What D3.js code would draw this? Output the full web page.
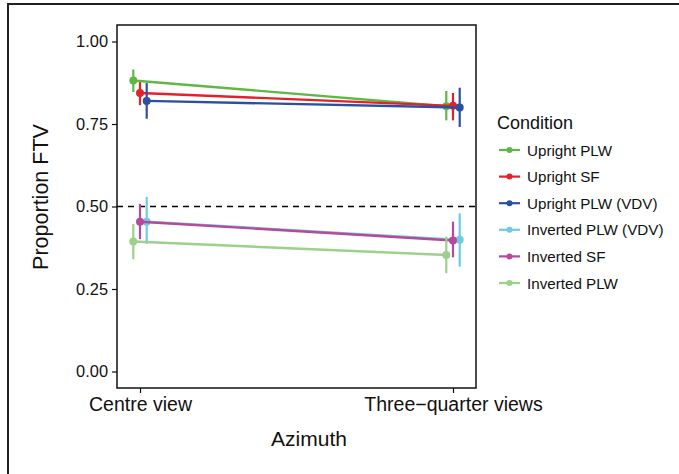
<!DOCTYPE html>
<html lang="en">
<head>
    <meta charset="UTF-8">
    <title>Proportion FTV by azimuth</title>
</head>
<style>
    body { margin: 0; background: #fff; }
    svg text { font-family: "Liberation Sans", Arial, Helvetica, sans-serif; fill: #111; }
</style>
<script src="https://cdn.jsdelivr.net/npm/d3@7"></script>
<body>
    <div id="graphic"></div>
</body>

<script>
    // categories
    var azimuths = ["Centre view", "Three\u2212quarter views"];
    var conditions = ["Upright PLW", "Upright SF", "Upright PLW (VDV)",
                      "Inverted PLW (VDV)", "Inverted SF", "Inverted PLW"];
    var colours = ["#5fb845", "#e4212a", "#2d4fa2", "#6ccde0", "#b8489d", "#9dd08b"];
    var yTicks = [0, 0.25, 0.5, 0.75, 1];

    // means and error bars, [centre, three-quarter]
    var means = [
        [0.882, 0.804],
        [0.844, 0.805],
        [0.820, 0.800],
        [0.454, 0.399],
        [0.454, 0.397],
        [0.394, 0.353]
    ];
    var lower = [
        [0.847, 0.761],
        [0.807, 0.761],
        [0.766, 0.741],
        [0.387, 0.318],
        [0.401, 0.346],
        [0.340, 0.298]
    ];
    var upper = [
        [0.915, 0.850],
        [0.877, 0.844],
        [0.874, 0.860],
        [0.529, 0.479],
        [0.508, 0.454],
        [0.447, 0.409]
    ];
    var chance = 0.5;

    var width = 679;
    var height = 474;
    var panel = {left: 117, top: 25, width: 359, height: 363};

    // dodge group: PLW / SF / VDV
    function group(c) {
        if (c.indexOf("VDV") >= 0) { return "VDV"; }
        if (c.indexOf("SF") >= 0) { return "SF"; }
        return "PLW";
    }

    var x = d3.scalePoint()
                .domain(azimuths)
                .range([0, panel.width])
                .padding(0.0735);

    var dodge = d3.scalePoint()
                .domain(["PLW", "SF", "VDV"])
                .range([-6.7, 6.7]);

    var y = d3.scaleLinear()
                .domain([-0.05, 1.05])
                .range([panel.height, 0]);

    var svg = d3.select('#graphic')
                .append('svg')
                .attr('width', width)
                .attr('height', height);

    // outer frame
    svg.append('rect')
        .attr('x', 8)
        .attr('y', 4)
        .attr('width', 700)
        .attr('height', 500)
        .attr('fill', 'none')
        .attr('stroke', '#231f20')
        .attr('stroke-width', 2);

    var g = svg.append('g')
                .attr('transform', 'translate(' + panel.left + ',' + panel.top + ')');

    // build rows
    var data = conditions.map(function(c, i) {
        return {
            condition: c,
            colour: colours[i],
            points: azimuths.map(function(a, j) {
                return {az: a, mean: means[i][j], lo: lower[i][j], hi: upper[i][j]};
            })
        };
    });

    function px(c, a) { return x(a) + dodge(group(c)); }

    // dashed chance line
    g.append('line')
        .attr('x1', 0)
        .attr('x2', panel.width)
        .attr('y1', y(chance))
        .attr('y2', y(chance))
        .attr('stroke', '#000')
        .attr('stroke-width', 1.3)
        .attr('stroke-dasharray', '6,5');

    var series = g.selectAll('.series')
                .data(data)
                .join('g')
                .attr('class', 'series');

    series.append('path')
        .attr('fill', 'none')
        .attr('stroke', function(d) { return d.colour; })
        .attr('stroke-width', 2.4)
        .attr('d', function(d) {
            return d3.line()
                .x(function(p) { return px(d.condition, p.az); })
                .y(function(p) { return y(p.mean); })(d.points);
        });

    series.selectAll('.err')
        .data(function(d) { return d.points.map(function(p) { return {d: d, p: p}; }); })
        .join('line')
        .attr('class', 'err')
        .attr('x1', function(e) { return px(e.d.condition, e.p.az); })
        .attr('x2', function(e) { return px(e.d.condition, e.p.az); })
        .attr('y1', function(e) { return y(e.p.lo); })
        .attr('y2', function(e) { return y(e.p.hi); })
        .attr('stroke', function(e) { return e.d.colour; })
        .attr('stroke-width', 2.2);

    series.selectAll('.pt')
        .data(function(d) { return d.points.map(function(p) { return {d: d, p: p}; }); })
        .join('circle')
        .attr('class', 'pt')
        .attr('cx', function(e) { return px(e.d.condition, e.p.az); })
        .attr('cy', function(e) { return y(e.p.mean); })
        .attr('r', 4)
        .attr('fill', function(e) { return e.d.colour; });

    // panel border
    g.append('rect')
        .attr('width', panel.width)
        .attr('height', panel.height)
        .attr('fill', 'none')
        .attr('stroke', '#111')
        .attr('stroke-width', 1.5);

    // axes
    var yAxis = g.append('g')
        .call(d3.axisLeft(y).tickValues(yTicks).tickFormat(d3.format('.2f')).tickSize(5).tickPadding(4));
    yAxis.select('.domain').remove();
    yAxis.selectAll('.tick line').attr('stroke', '#111').attr('stroke-width', 1.2);
    yAxis.selectAll('.tick text').style('font-size', '16.4px').attr('fill', '#111');

    var xAxis = g.append('g')
        .attr('transform', 'translate(0,' + panel.height + ')')
        .call(d3.axisBottom(x).tickSize(5).tickPadding(4));
    xAxis.select('.domain').remove();
    xAxis.selectAll('.tick line').attr('stroke', '#111').attr('stroke-width', 1.2);
    xAxis.selectAll('.tick text').style('font-size', '19.5px').attr('fill', '#111');

    // axis titles
    svg.append('text')
        .attr('x', 309)
        .attr('y', 446)
        .attr('text-anchor', 'middle')
        .style('font-size', '21px')
        .text('Azimuth');

    svg.append('text')
        .attr('transform', 'translate(48,197) rotate(-90)')
        .attr('text-anchor', 'middle')
        .style('font-size', '21.5px')
        .text('Proportion FTV');

    // legend
    var legend = svg.append('g').attr('transform', 'translate(497,0)');
    legend.append('text')
        .attr('x', 0)
        .attr('y', 129)
        .style('font-size', '18px')
        .text('Condition');

    var keys = legend.selectAll('.key')
        .data(data)
        .join('g')
        .attr('class', 'key')
        .attr('transform', function(d, i) { return 'translate(0,' + (150 + i * 26.6) + ')'; });

    keys.append('line')
        .attr('x1', 2).attr('x2', 23)
        .attr('stroke', function(d) { return d.colour; })
        .attr('stroke-width', 2.2);
    keys.append('circle')
        .attr('cx', 12.5)
        .attr('r', 3)
        .attr('fill', function(d) { return d.colour; });
    keys.append('text')
        .attr('x', 30)
        .attr('y', 5.5)
        .style('font-size', '15.2px')
        .text(function(d) { return d.condition; });
</script>
</html>
